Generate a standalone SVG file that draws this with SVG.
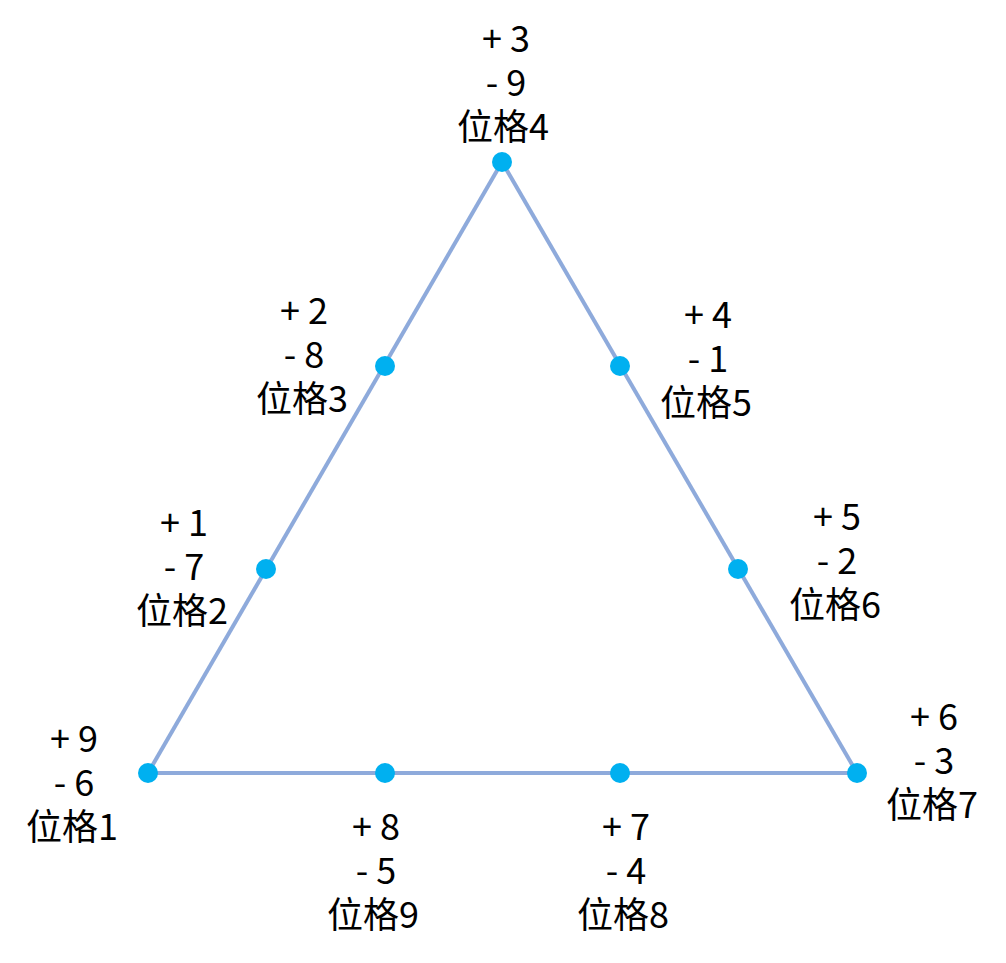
<svg xmlns="http://www.w3.org/2000/svg" width="1006" height="963" viewBox="0 0 1006 963">
<style>
.edge{stroke:#8eaadb;stroke-width:4;fill:none;stroke-linejoin:round}
.dot{fill:#00b0f0}
text{font-family:"Noto Sans CJK TC","Noto Sans CJK SC",sans-serif;font-size:36px;fill:#000;text-anchor:middle}
</style>
<rect width="1006" height="963" fill="#fff"/>
<g id="connectors">
<line class="edge" x1="502" y1="162" x2="148" y2="773"/>
<line class="edge" x1="502" y1="162" x2="857" y2="773"/>
<line class="edge" x1="148" y1="773" x2="857" y2="773"/>
</g>
<g id="node1"><circle class="dot" cx="148" cy="773" r="10"/><text><tspan x="74" y="752">+ 9</tspan><tspan x="74" y="796">- 6</tspan><tspan x="72" y="840">位格1</tspan></text></g>
<g id="node2"><circle class="dot" cx="266" cy="569" r="10"/><text><tspan x="184" y="536">+ 1</tspan><tspan x="184" y="580">- 7</tspan><tspan x="182" y="624">位格2</tspan></text></g>
<g id="node3"><circle class="dot" cx="385" cy="366" r="10"/><text><tspan x="304" y="324">+ 2</tspan><tspan x="304" y="368">- 8</tspan><tspan x="302" y="412">位格3</tspan></text></g>
<g id="node4"><circle class="dot" cx="502" cy="162" r="10"/><text><tspan x="506" y="52">+ 3</tspan><tspan x="506" y="96">- 9</tspan><tspan x="503" y="140">位格4</tspan></text></g>
<g id="node5"><circle class="dot" cx="620" cy="366" r="10"/><text><tspan x="708" y="328">+ 4</tspan><tspan x="708" y="372">- 1</tspan><tspan x="706" y="416">位格5</tspan></text></g>
<g id="node6"><circle class="dot" cx="738" cy="569" r="10"/><text><tspan x="837" y="530">+ 5</tspan><tspan x="837" y="574">- 2</tspan><tspan x="835" y="618">位格6</tspan></text></g>
<g id="node7"><circle class="dot" cx="857" cy="773" r="10"/><text><tspan x="934" y="730">+ 6</tspan><tspan x="934" y="774">- 3</tspan><tspan x="932" y="818">位格7</tspan></text></g>
<g id="node8"><circle class="dot" cx="620" cy="773" r="10"/><text><tspan x="626" y="840">+ 7</tspan><tspan x="626" y="884">- 4</tspan><tspan x="623" y="928">位格8</tspan></text></g>
<g id="node9"><circle class="dot" cx="385" cy="773" r="10"/><text><tspan x="376" y="840">+ 8</tspan><tspan x="376" y="884">- 5</tspan><tspan x="373" y="928">位格9</tspan></text></g>
</svg>
